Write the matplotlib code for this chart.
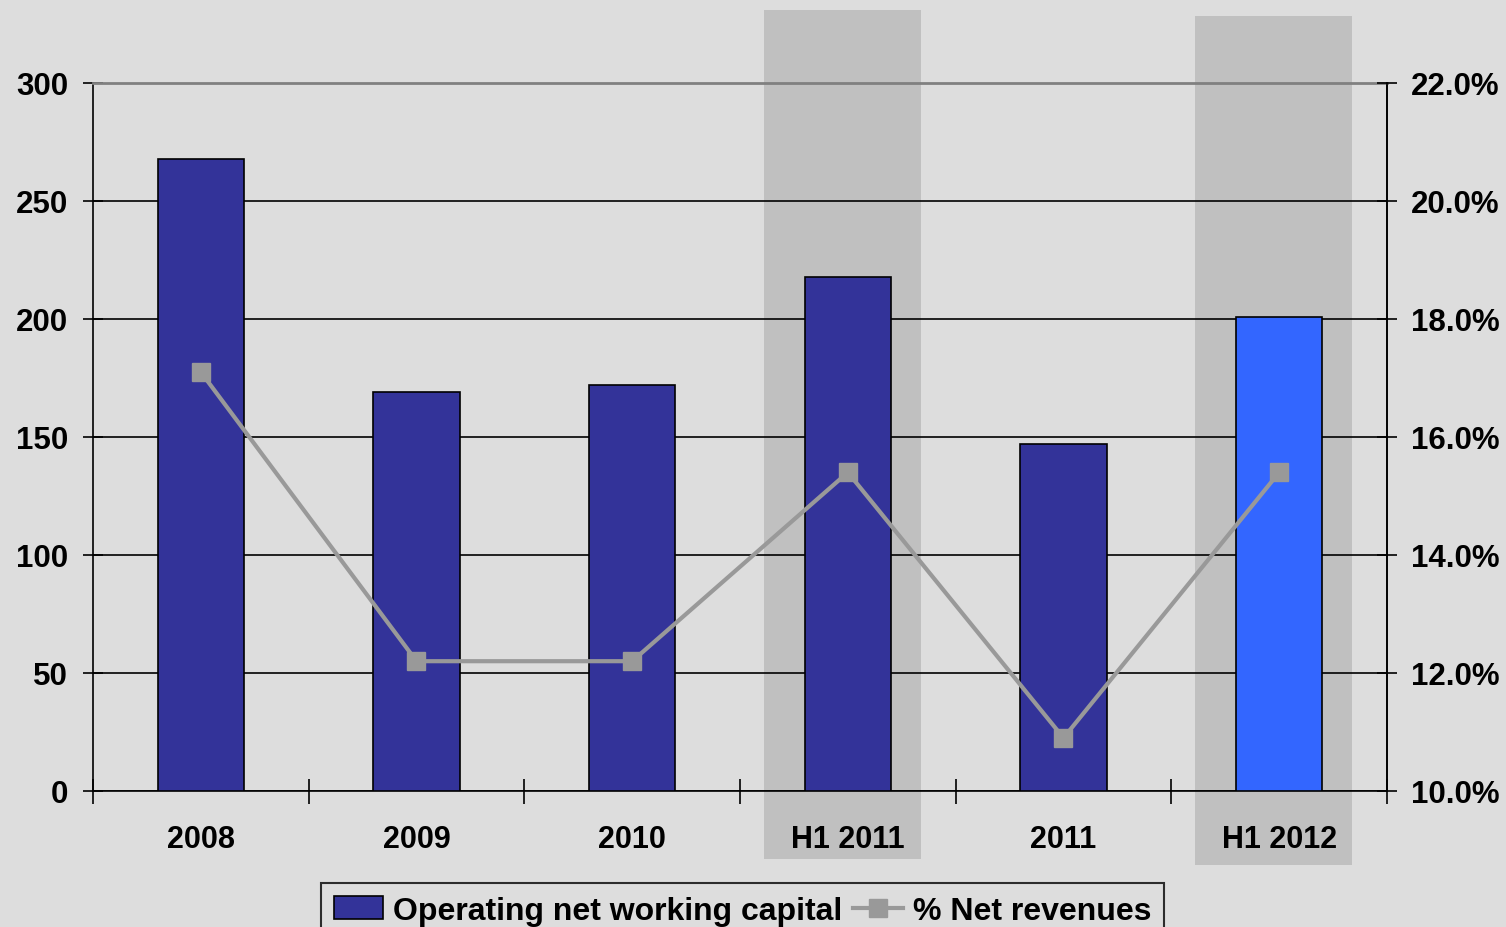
import numpy as np
import matplotlib.pyplot as plt
from matplotlib.patches import Rectangle
from matplotlib.lines import Line2D
from matplotlib.ticker import FuncFormatter
import matplotlib.transforms as mtransforms

plt.rcParams['font.family'] = ['Liberation Sans', 'DejaVu Sans']
plt.rcParams['font.weight'] = 'bold'

categories = ['2008', '2009', '2010', 'H1 2011', '2011', 'H1 2012']
working_capital = [268, 169, 172, 218, 147, 201]
pct_net_revenues = [17.1, 12.2, 12.2, 15.4, 10.9, 15.4]
highlighted = ['H1 2011', 'H1 2012']

bg = '#DDDDDD'
bar_colors = ['#333399'] * 5 + ['#3366FF']

fig = plt.figure(figsize=(15.06, 9.28), dpi=100, facecolor=bg)
ax = fig.add_axes([93 / 1506, 1 - 792 / 928, (1387 - 93) / 1506, (792 - 84) / 928])
ax.set_facecolor(bg)

x = np.arange(len(categories))

# shaded bands behind the half-year columns (second one sits a bit lower)
trans = mtransforms.blended_transform_factory(ax.transData, ax.transAxes)
band_bottoms = [-0.096, -0.105]
for cat, b in zip(highlighted, band_bottoms):
    i = categories.index(cat)
    ax.add_patch(Rectangle((i - 0.39, b), 0.728, 1.199, transform=trans,
                           facecolor='#C0C0C0', edgecolor='none', clip_on=False, zorder=0))

ax.bar(x, working_capital, width=0.4, color=bar_colors, edgecolor='black',
       linewidth=1.2, zorder=3)

ax.set_xlim(-0.5, len(categories) - 0.5)
ax.set_ylim(0, 300)
ax.set_yticks(range(0, 301, 50))
ax.yaxis.grid(True, color='black', linewidth=1.2, zorder=1)
ax.set_axisbelow(True)

ax.set_xticks(np.arange(len(categories) + 1) - 0.5)
ax.set_xticklabels([])
ax.set_xticks(x, minor=True)
ax.set_xticklabels(categories, minor=True, fontsize=22, fontweight='bold')
ax.tick_params(axis='x', which='major', direction='inout', length=18, width=1.2)
ax.tick_params(axis='x', which='minor', length=0, pad=24)
ax.tick_params(axis='y', direction='inout', length=14, width=1.2, pad=11,
               labelsize=22.5)
for lab in ax.get_yticklabels():
    lab.set_fontweight('bold')

for s in ['left', 'bottom', 'right']:
    ax.spines[s].set_linewidth(1.2)
ax.spines['top'].set_color('#808080')
ax.spines['top'].set_linewidth(2)

ax2 = ax.twinx()
ax2.plot(x, pct_net_revenues, color='#999999', linewidth=3, marker='s',
         markersize=13, zorder=5)
ax2.set_ylim(10, 22)
ax2.set_yticks(range(10, 23, 2))
ax2.yaxis.set_major_formatter(FuncFormatter(lambda v, p: f'{v:.1f}%'))
ax2.tick_params(axis='y', direction='inout', length=14, width=1.2, pad=10,
                labelsize=22.5)
for lab in ax2.get_yticklabels():
    lab.set_fontweight('bold')
for s in ['left', 'bottom', 'top']:
    ax2.spines[s].set_visible(False)
ax2.spines['right'].set_linewidth(1.2)

handles = [Rectangle((0, 0), 1, 1, facecolor='#333399', edgecolor='black', linewidth=1.2),
           Line2D([], [], color='#999999', linewidth=3, marker='s', markersize=13)]
leg = fig.legend(handles, ['Operating net working capital', '% Net revenues'],
                 loc='upper center', bbox_to_anchor=(0.493, 1 - 884 / 928),
                 borderaxespad=0, ncol=2, frameon=True, fancybox=False, facecolor=bg,
                 edgecolor='black', handlelength=1.55, handleheight=0.7,
                 handletextpad=0.3, columnspacing=0.35, borderpad=0.4,
                 prop={'family': ['Liberation Sans Narrow', 'Liberation Sans'],
                       'weight': 'bold', 'size': 23})
leg.get_frame().set_linewidth(1.5)

fig.savefig('out.png', dpi=100, facecolor=bg)
